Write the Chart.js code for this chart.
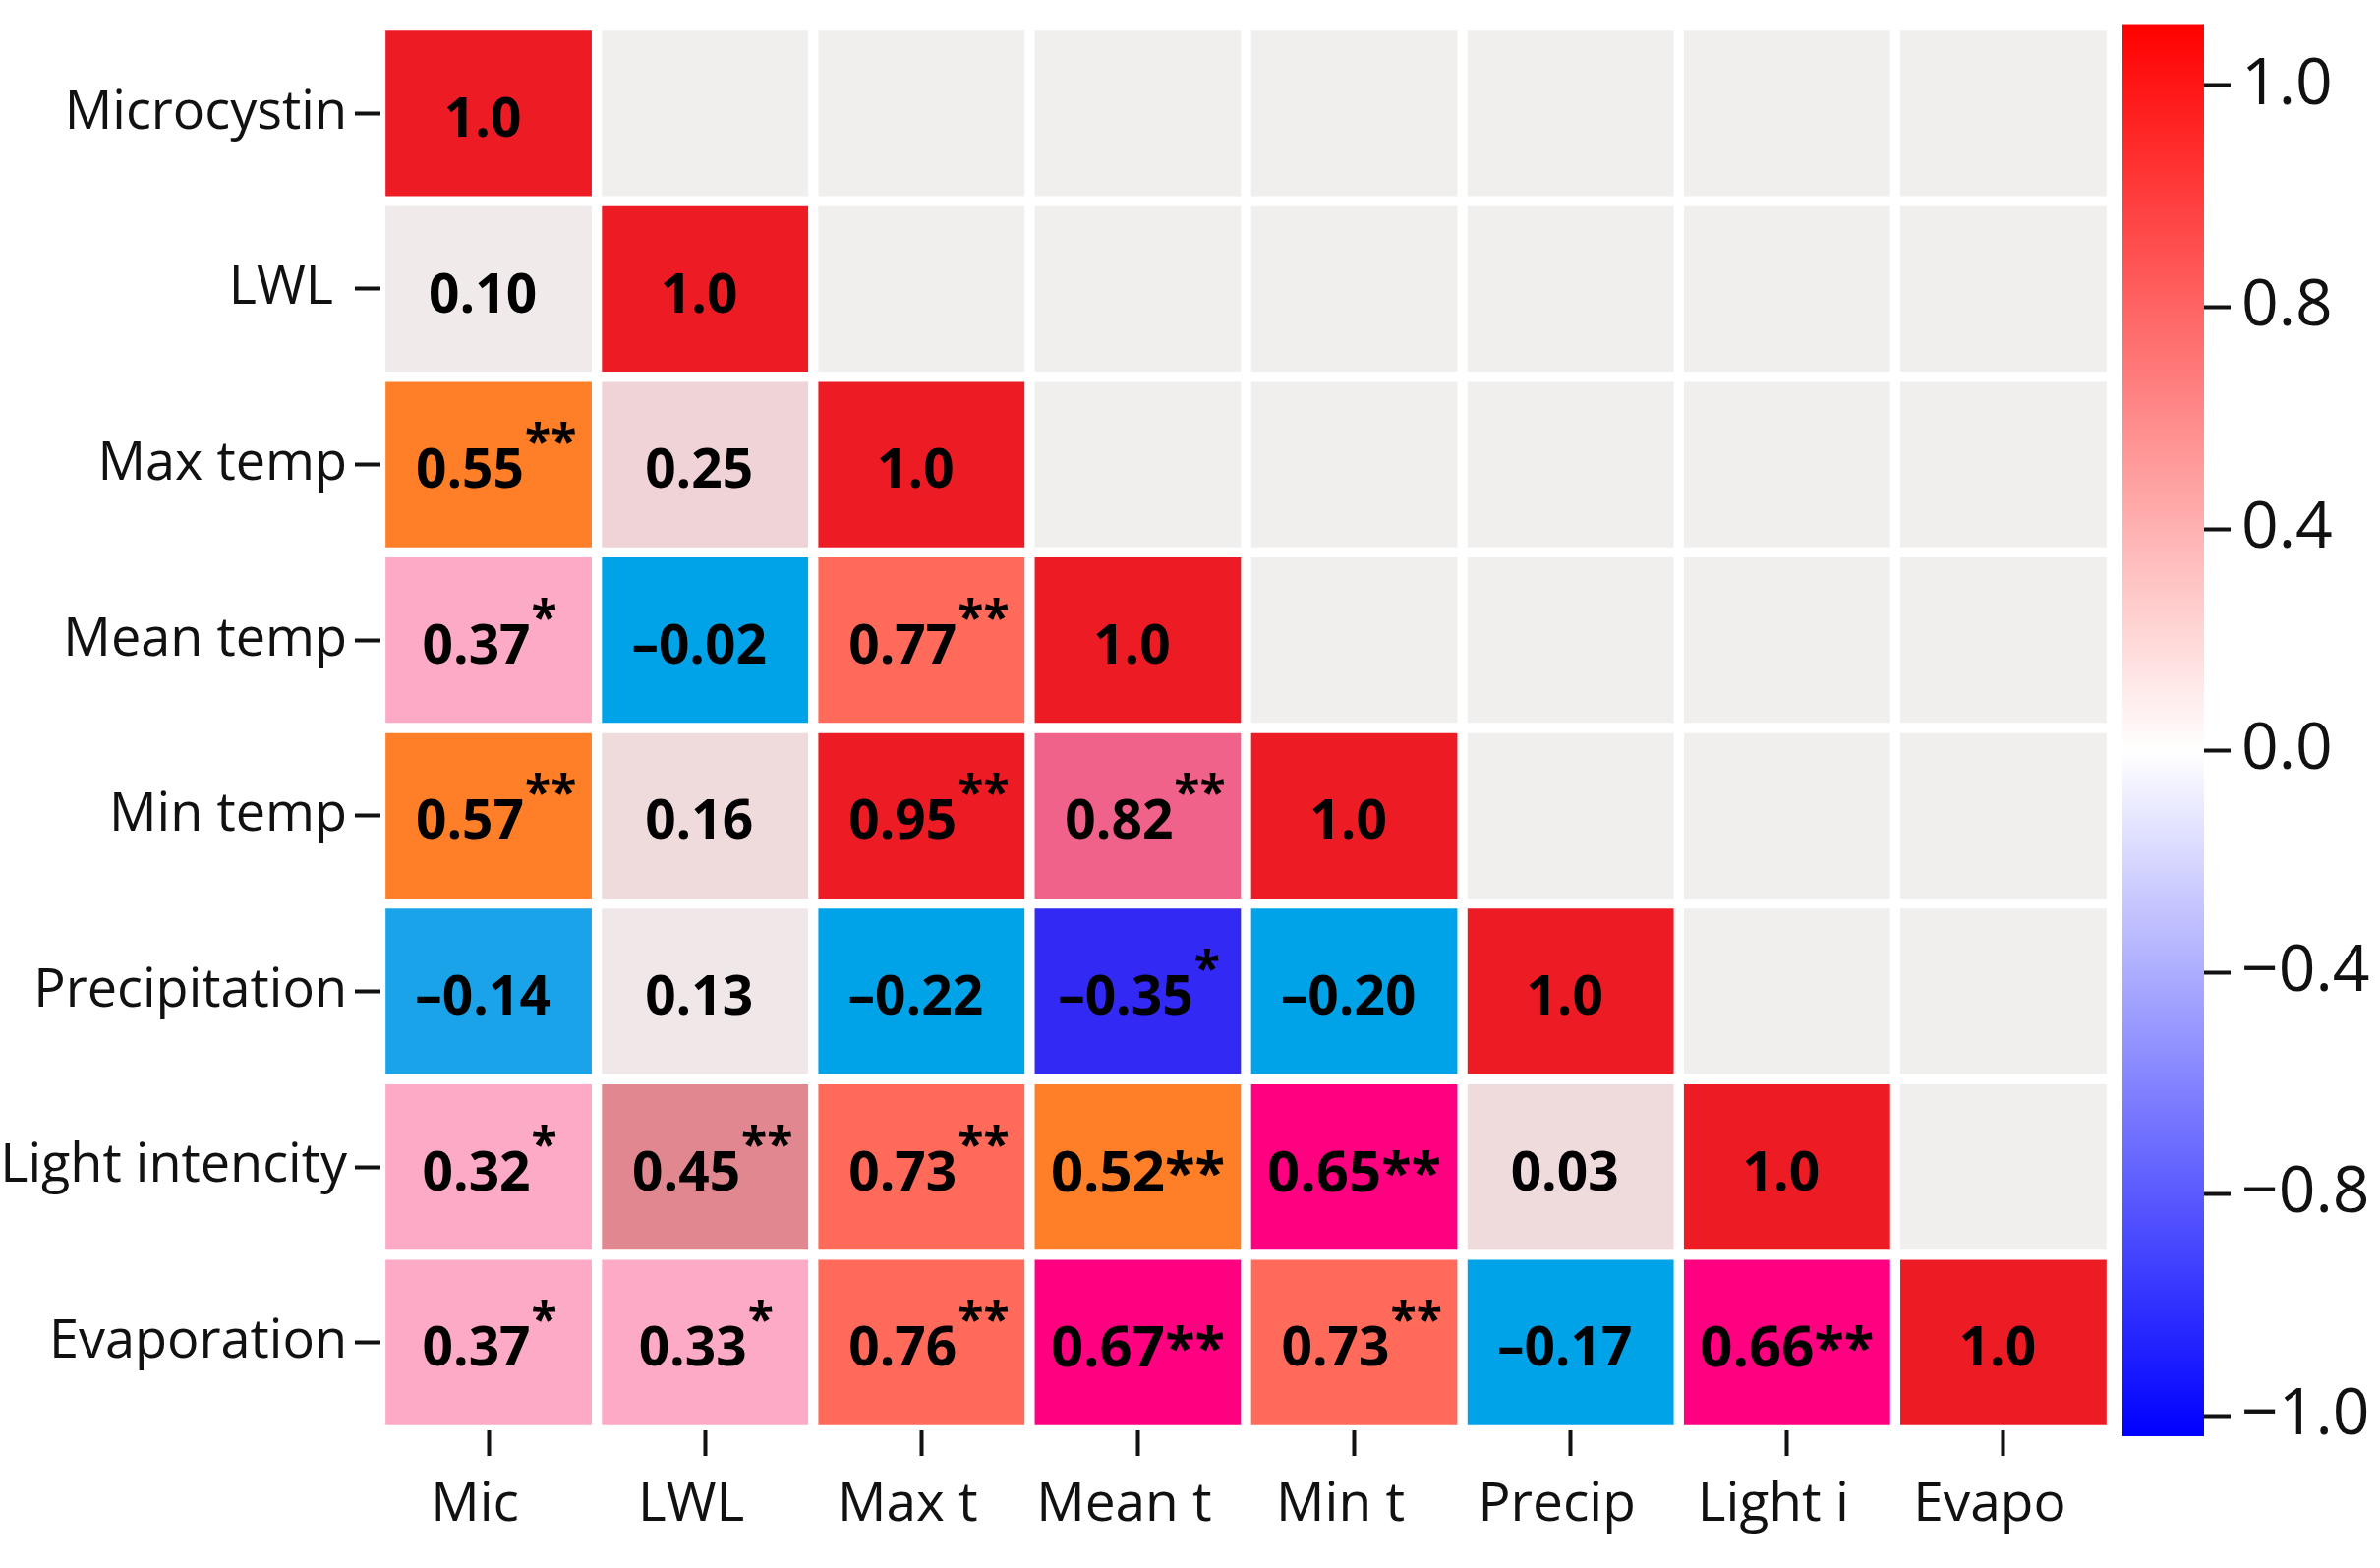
<!DOCTYPE html>
<html>
<head>
<meta charset="utf-8">
<script src="https://cdn.jsdelivr.net/npm/chart.js@4.4.1/dist/chart.umd.min.js"></script>
<style>
html,body{margin:0;padding:0;background:#ffffff;}
#c{display:block;}
</style>
</head>
<body>
<canvas id="c" width="2421" height="1595"></canvas>
<script>
// ---------------- DATA ----------------
const rowLabels = ["Microcystin", "LWL ", "Max temp", "Mean temp", "Min temp", "Precipitation", "Light intencity", "Evaporation"];
const colLabels = ["Mic", "LWL", "Max t", "Mean t", "Min t", "Precip", "Light i", "Evapo"];

// lower-triangular correlation matrix (row i, columns 0..i)
const corrMic      = [1.0];
const corrLWL      = [0.10, 1.0];
const corrMaxTemp  = [0.55, 0.25, 1.0];
const corrMeanTemp = [0.37, -0.02, 0.77, 1.0];
const corrMinTemp  = [0.57, 0.16, 0.95, 0.82, 1.0];
const corrPrecip   = [-0.14, 0.13, -0.22, -0.35, -0.20, 1.0];
const corrLight    = [0.32, 0.45, 0.73, 0.52, 0.65, 0.03, 1.0];
const corrEvapo    = [0.37, 0.33, 0.76, 0.67, 0.73, -0.17, 0.66, 1.0];
const corr = [corrMic, corrLWL, corrMaxTemp, corrMeanTemp, corrMinTemp, corrPrecip, corrLight, corrEvapo];

// significance marks
const sig = [
  [""],
  ["", ""],
  ["**", "", ""],
  ["*", "", "**", ""],
  ["**", "", "**", "**", ""],
  ["", "", "", "*", "", ""],
  ["*", "**", "**", "**", "**", "", ""],
  ["*", "*", "**", "**", "**", "", "**", ""]
];

const colorbarTicks = ["1.0", "0.8", "0.4", "0.0", "\u22120.4", "\u22120.8", "\u22121.0"];

// ---------------- STYLES ----------------
const cellColors = [
  ["#ED1C24"],
  ["#F0EAEA", "#ED1C24"],
  ["#FE7F27", "#EFD3D6", "#ED1C24"],
  ["#FDAAC7", "#00A2E8", "#FF6A5A", "#ED1C24"],
  ["#FE7F27", "#EFDADC", "#ED1C24", "#F0628A", "#ED1C24"],
  ["#1AA3E8", "#F0E8E8", "#00A2E8", "#3329F5", "#00A2E8", "#ED1C24"],
  ["#FDAAC7", "#E0878F", "#FF6A5A", "#FE7F27", "#FF0080", "#EFDADC", "#ED1C24"],
  ["#FDAAC7", "#FDAAC7", "#FF6A5A", "#FF0080", "#FF6A5A", "#00A2E8", "#FF0080", "#ED1C24"]
];
const emptyColor = "#F0EFEE";
const inlineSig = ["6-3", "6-4", "7-3", "7-6"];
const FONT = "'Open Sans', sans-serif";
const TEXT = "#111111";

Chart.defaults.font.family = FONT;

function fmt(v) {
  if (v === 1) return "1.0";
  const s = Math.abs(v).toFixed(2);
  return v < 0 ? "\u2013" + s : s;
}

const datasets = rowLabels.map((r, i) => ({
  label: r.trim(),
  data: colLabels.map(() => [i, i + 1]),
  backgroundColor: colLabels.map((c, j) => (j <= i ? cellColors[i][j] : emptyColor)),
  borderColor: "#ffffff",
  borderWidth: 5.5,
  borderSkipped: false,
  grouped: false,
  categoryPercentage: 1,
  barPercentage: 1
}));

const cellTextPlugin = {
  id: "cellText",
  afterDatasetsDraw(chart) {
    const ctx = chart.ctx;
    chart.data.datasets.forEach((ds, i) => {
      const meta = chart.getDatasetMeta(i);
      meta.data.forEach((el, j) => {
        if (j > i) return;
        const p = el.getProps(["x", "y", "base"], true);
        const cx = p.x;
        const cy = (p.y + p.base) / 2 + 4;
        const txt = fmt(corr[i][j]);
        const s = sig[i][j];
        const inline = inlineSig.includes(i + "-" + j);
        const numSize = inline ? 58 : 55;
        const starSize = inline ? 56 : 48;
        ctx.save();
        ctx.fillStyle = "#000000";
        ctx.textAlign = "left";
        ctx.textBaseline = "alphabetic";
        ctx.font = "bold " + numSize + "px " + FONT;
        const w = ctx.measureText(txt).width;
        ctx.font = "bold " + starSize + "px " + FONT;
        const sw = s ? ctx.measureText(s).width : 0;
        const baseline = cy + 0.357 * numSize;
        let nx, sx, sy;
        if (inline) {
          nx = cx - (w + sw) / 2;
          sx = nx + w;
          sy = baseline;
        } else {
          nx = cx - w / 2 - 6 - sw * 0.25;
          sx = nx + w + 1;
          sy = baseline - 30;
        }
        ctx.font = "bold " + numSize + "px " + FONT;
        ctx.fillText(txt, nx, baseline);
        if (s) {
          ctx.font = "bold " + starSize + "px " + FONT;
          ctx.fillText(s, sx, sy);
        }
        ctx.restore();
      });
    });
  }
};

const colorbarPlugin = {
  id: "colorbar",
  afterDatasetsDraw(chart) {
    const ctx = chart.ctx;
    const cb = chart.scales.cbar;
    const gap = chart.scales.cbarGap;
    const x0 = gap.left + 11;
    const x1 = cb.left;
    const y0 = cb.getPixelForValue(-0.277);
    const y1 = cb.getPixelForValue(6.093);
    const zero = cb.getPixelForValue(3);
    const g = ctx.createLinearGradient(0, y0, 0, y1);
    g.addColorStop(0, "#FF0000");
    g.addColorStop((zero - y0) / (y1 - y0), "#FFFFFF");
    g.addColorStop(1, "#0000FF");
    ctx.save();
    ctx.fillStyle = g;
    ctx.fillRect(x0, y0, x1 - x0, y1 - y0);
    ctx.restore();
  }
};

new Chart(document.getElementById("c"), {
  type: "bar",
  data: { labels: colLabels, datasets },
  options: {
    responsive: false,
    animation: false,
    events: [],
    layout: { padding: { top: 26, left: 0, right: 0, bottom: 0 } },
    plugins: { legend: { display: false }, tooltip: { enabled: false } },
    scales: {
      x: {
        type: "category",
        offset: true,
        position: "bottom",
        grid: { display: true, drawOnChartArea: false, offset: false, tickLength: 26, tickWidth: 4, tickColor: TEXT },
        border: { display: false },
        ticks: { font: { family: FONT, size: 55 }, color: TEXT, padding: 17, labelOffset: -14, maxRotation: 0, minRotation: 0, autoSkip: false },
        afterFit: s => { s.height = 140; s.paddingLeft = 0; s.paddingRight = 0; }
      },
      y: {
        type: "linear",
        position: "left",
        min: 0,
        max: 8,
        reverse: true,
        weight: 0,
        afterBuildTicks: s => { s.ticks = rowLabels.map((r, i) => ({ value: i + 0.5 })); },
        grid: { display: true, drawOnChartArea: false, tickLength: 26, tickWidth: 4, tickColor: TEXT },
        border: { display: false },
        ticks: { callback: (v, i) => rowLabels[i], font: { family: FONT, size: 54 }, color: TEXT, padding: 8, autoSkip: false },
        afterFit: s => { s.width = 387; s.paddingTop = 0; s.paddingBottom = 0; }
      },
      cbarGap: {
        type: "linear",
        position: "right",
        weight: 0,
        display: true,
        grid: { display: false },
        border: { display: false },
        ticks: { display: false },
        afterFit: s => { s.width = 94; s.paddingTop = 0; s.paddingBottom = 0; }
      },
      cbar: {
        type: "linear",
        position: "right",
        weight: 1,
        min: -0.2705,
        max: 6.0665,
        reverse: true,
        afterBuildTicks: s => { s.ticks = colorbarTicks.map((t, i) => ({ value: i })); },
        grid: { display: true, drawOnChartArea: false, tickLength: 27, tickWidth: 4, tickColor: TEXT },
        border: { display: false },
        ticks: { callback: (v, i) => colorbarTicks[i], font: { family: FONT, size: 66 }, color: TEXT, padding: 11, autoSkip: false },
        afterFit: s => { s.width = 179; s.paddingTop = 0; s.paddingBottom = 0; }
      }
    }
  },
  plugins: [cellTextPlugin, colorbarPlugin]
});
</script>
</body>
</html>
